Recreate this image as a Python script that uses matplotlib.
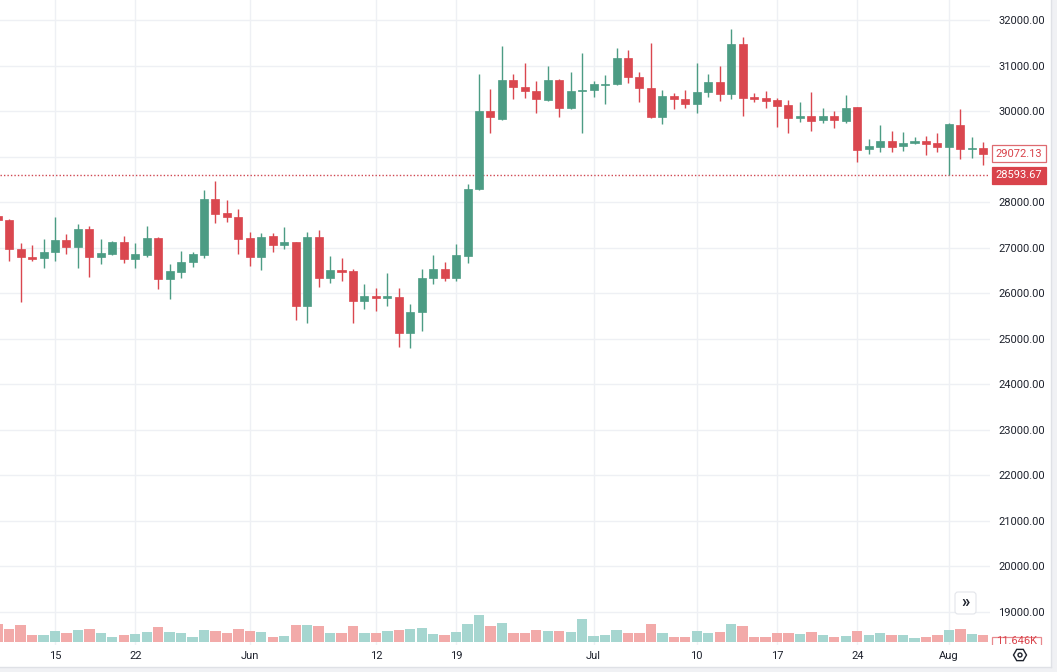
import numpy as np
import pandas as pd
import matplotlib
matplotlib.use('Agg')
import matplotlib.pyplot as plt
from matplotlib.patches import Rectangle, RegularPolygon, Circle, FancyBboxPatch

# ---------------- data ----------------
dates = pd.date_range('2023-05-10', '2023-08-04', freq='D')

opens = [27700, 27610, 26970, 26790, 26770, 26910, 27170, 27025, 27410, 26805,
         26865, 27120, 26745, 26845, 27210, 26315, 26475, 26695, 26845, 28065,
         27755, 27685, 27210, 26805, 27260, 27060, 27135, 25720, 27230, 26330,
         26510, 26490, 25835, 25940, 25905, 25925, 25120, 25580, 26330, 26525,
         26330, 26820, 28285, 30005, 29825, 30690, 30530, 30455, 30250, 30690,
         30065, 30440, 30470, 30595, 30600, 31165, 30760, 30505, 29880, 30335,
         30270, 30155, 30420, 30640, 30375, 31475, 30320, 30300, 30250, 30140,
         29860, 29895, 29810, 29905, 29795, 30090, 29165, 29220, 29345, 29235,
         29310, 29345, 29295, 29220, 29700, 29180, 29200]
highs = [28300, 27630, 27100, 27060, 27190, 27670, 27300, 27515, 27485, 27190,
         27150, 27265, 27100, 27485, 27230, 26635, 26935, 26915, 28270, 28470,
         28050, 27845, 27340, 27320, 27330, 27450, 27135, 27340, 27390, 26820,
         26770, 26535, 26205, 26110, 26440, 26110, 25765, 26535, 26840, 26695,
         27085, 28400, 30815, 30490, 31435, 30820, 31055, 30675, 30995, 30710,
         30855, 31290, 30675, 30800, 31385, 31350, 30870, 31500, 30470, 30395,
         30470, 31055, 30820, 30995, 31805, 31640, 30395, 30445, 30285, 30250,
         30210, 30430, 30065, 30015, 30360, 30100, 29385, 29700, 29565, 29540,
         29440, 29455, 29530, 29735, 30045, 29430, 29330]
lows = [26800, 26720, 25815, 26710, 26560, 26715, 26865, 26550, 26365, 26645,
        26850, 26660, 26550, 26805, 26095, 25875, 26330, 26585, 26770, 27540,
        27560, 26855, 26605, 26510, 26915, 26965, 25415, 25355, 26130, 26220,
        26270, 25355, 25650, 25615, 25720, 24825, 24805, 25180, 26200, 26275,
        26270, 26660, 28270, 29530, 29810, 30265, 30285, 29955, 30225, 29870,
        30050, 29515, 30320, 30160, 30580, 30630, 30210, 29855, 29715, 30045,
        30065, 29970, 30310, 30225, 30265, 29905, 30210, 30065, 29660, 29515,
        29770, 29575, 29735, 29640, 29735, 28880, 29060, 29110, 29100, 29135,
        29280, 29040, 29110, 28594, 28945, 28980, 28820]
closes = [27620, 26970, 26790, 26755, 26915, 27170, 27025, 27410, 26805, 26880,
          27120, 26745, 26855, 27210, 26315, 26490, 26695, 26865, 28065, 27735,
          27670, 27195, 26805, 27245, 27060, 27120, 25720, 27230, 26330, 26510,
          26475, 25835, 25940, 25905, 25940, 25120, 25580, 26345, 26525, 26330,
          26840, 28290, 30005, 29870, 30690, 30530, 30445, 30265, 30690, 30065,
          30455, 30470, 30595, 30615, 31165, 30760, 30505, 29875, 30335, 30265,
          30155, 30420, 30640, 30375, 31475, 30300, 30280, 30235, 30125, 29845,
          29905, 29795, 29905, 29810, 30080, 29150, 29235, 29345, 29220, 29310,
          29355, 29280, 29220, 29715, 29170, 29200, 29072.13]
volumes_k = [31.8, 22.6, 30.1, 11.6, 11.6, 19.1, 16.2, 20.9, 22.6, 15.1,
             8.2, 11.6, 13.4, 17.9, 26.1, 17.9, 16.2, 8.7, 20.9, 19.6,
             16.2, 22.6, 19.6, 17.9, 8.2, 9.9, 30.1, 30.1, 27.3, 15.1,
             15.1, 28.3, 15.1, 15.1, 19.6, 20.9, 22.6, 23.8, 13.4, 11.6,
             17.9, 31.8, 47.4, 27.3, 33.5, 15.1, 15.1, 20.9, 19.1, 19.1,
             17.9, 39.5, 9.9, 11.6, 20.9, 16.2, 16.2, 31.8, 16.2, 8.7,
             8.7, 19.6, 15.1, 17.9, 31.8, 27.3, 8.7, 8.7, 15.1, 15.1,
             13.4, 17.9, 11.6, 8.7, 10.4, 19.6, 12.2, 16.2, 11.6, 11.6,
             7.0, 8.7, 11.6, 20.9, 22.6, 13.4, 11.646]

tick_dates = ['2023-05-15', '2023-05-22', '2023-06-01', '2023-06-12', '2023-06-19',
              '2023-07-01', '2023-07-10', '2023-07-17', '2023-07-24', '2023-08-01']
tick_labels = ['15', '22', 'Jun', '12', '19', 'Jul', '10', '17', '24', 'Aug']
price_ticks = list(range(19000, 32001, 1000))
hidden_price_labels = [29000]  # covered by the last-price label in the reference
last_price = 29072.13
marker_price = 28593.67
last_volume_label = '11.646K'

# ---------------- styling ----------------
UP = '#4c9c84'
DOWN = '#da474f'
UP_VOL = '#a6d6d0'
DOWN_VOL = '#f2aaa9'
GRID = '#eef0f4'
TEXT = '#1e222d'
FONT = ['Roboto', 'DejaVu Sans']
plt.rcParams['font.family'] = FONT

W, H = 1057, 672
PLOT_W, PLOT_H = 990, 645
PX_PER_DAY = 11.46

fig = plt.figure(figsize=(W / 100, H / 100), dpi=100)
fig.patch.set_facecolor('white')

ax = fig.add_axes([0, (H - PLOT_H) / H, PLOT_W / W, PLOT_H / H])
x = np.array([(d - dates[0]).days for d in dates], dtype=float)
o = np.array(opens); h = np.array(highs); l = np.array(lows); c = np.array(closes)
up = c >= o
cols = np.where(up, UP, DOWN)

x0 = 0.2
ax.set_xlim(x0, x0 + PLOT_W / PX_PER_DAY)
ax.set_ylim(18270, 32446)

ax.vlines(x, l, h, colors=cols, linewidth=1.0, zorder=2)
body_bottom = np.minimum(o, c)
body_h = np.maximum(np.abs(c - o), 25)
ax.bar(x, body_h, bottom=body_bottom - np.where(np.abs(c - o) < 25, 12, 0),
       width=0.7, color=cols, edgecolor=cols, linewidth=0.5, zorder=3)

ax.axhline(marker_price, color='#cf4852', linestyle=(0, (1, 1.5)), linewidth=1.0, zorder=1)

# volume overlay
vax = ax.twinx()
VOL_PER_PX = 1.738
vax.set_ylim(-3 * VOL_PER_PX, (PLOT_H - 3) * VOL_PER_PX)
vax.bar(x, volumes_k, width=0.9, color=np.where(up, UP_VOL, DOWN_VOL), linewidth=0, zorder=1)
vax.yaxis.set_visible(False)
vax.patch.set_visible(False)
for s in vax.spines.values():
    s.set_visible(False)
vax.set_xlim(ax.get_xlim())

tick_x = [(pd.Timestamp(t) - dates[0]).days for t in tick_dates]
ax.set_xticks(tick_x)
ax.set_xticklabels(tick_labels)
ax.set_yticks(price_ticks)
ax.set_yticklabels(['' if v in hidden_price_labels else f'{v:.2f}' for v in price_ticks])
ax.yaxis.tick_right()
ax.yaxis.set_label_position('right')
ax.tick_params(axis='y', which='both', left=False, right=False, labelleft=False,
               labelright=True, length=0, pad=6, labelsize=8, labelcolor=TEXT)
ax.tick_params(axis='x', length=0, pad=4, labelsize=8, labelcolor=TEXT)
ax.grid(True, color=GRID, linewidth=1, zorder=0)
ax.set_axisbelow(True)
for s in ax.spines.values():
    s.set_visible(False)

# price labels on the scale
lab_cx = 1019 / W
ax.annotate(f'{last_price:.2f}', xy=(lab_cx, last_price), xycoords=('figure fraction', 'data'),
            ha='center', va='center', fontsize=8, color='#d9434b', annotation_clip=False,
            bbox=dict(boxstyle='square,pad=0.3', fc='white', ec='#de6a70', lw=0.9), zorder=10)
ax.annotate(f'{marker_price:.2f}', xy=(lab_cx, marker_price), xycoords=('figure fraction', 'data'),
            ha='center', va='center', fontsize=8, color='white', annotation_clip=False,
            bbox=dict(boxstyle='square,pad=0.3', fc='#d9434b', ec='#d9434b', lw=0.9), zorder=10)

# overlay for UI decorations (pixel coordinates)
oax = fig.add_axes([0, 0, 1, 1], zorder=20)
oax.set_xlim(0, W)
oax.set_ylim(H, 0)
oax.axis('off')
oax.patch.set_visible(False)

# volume label (clipped by time axis)
clip = Rectangle((0, 0), W, PLOT_H, transform=oax.transData)
vr = Rectangle((992, 636.5), 49, 16, fc='white', ec='#e8898e', lw=0.9)
oax.add_patch(vr)
vr.set_clip_path(clip)
oax.text(1016.5, 641.0, last_volume_label, ha='center', va='center', fontsize=8, color='#d9434b')

# borders
oax.add_patch(Rectangle((0, 667), W, 5, fc='#f0f1f4', ec='none'))
oax.add_patch(Rectangle((1051.5, 0), 6, H, fc='#f0f1f4', ec='none'))
oax.plot([1051, 1051], [0, 667], color='#dfe1e6', lw=1)
oax.plot([0, 1051], [667, 667], color='#dfe1e6', lw=1)

# scroll button
oax.add_patch(FancyBboxPatch((955, 592), 21, 22, boxstyle='round,pad=0,rounding_size=3',
                             fc='white', ec='#e3e5ea', lw=0.8))
oax.text(965.5, 602.5, '»', ha='center', va='center', fontsize=12, color=TEXT, fontweight='bold')

# settings icon
oax.add_patch(RegularPolygon((1020, 655), numVertices=6, radius=6.5, orientation=np.pi / 6,
                            fill=False, ec=TEXT, lw=1.0))
oax.add_patch(Circle((1020, 655), 2.0, fill=False, ec=TEXT, lw=1.0))

fig.savefig('out.png', dpi=100)
